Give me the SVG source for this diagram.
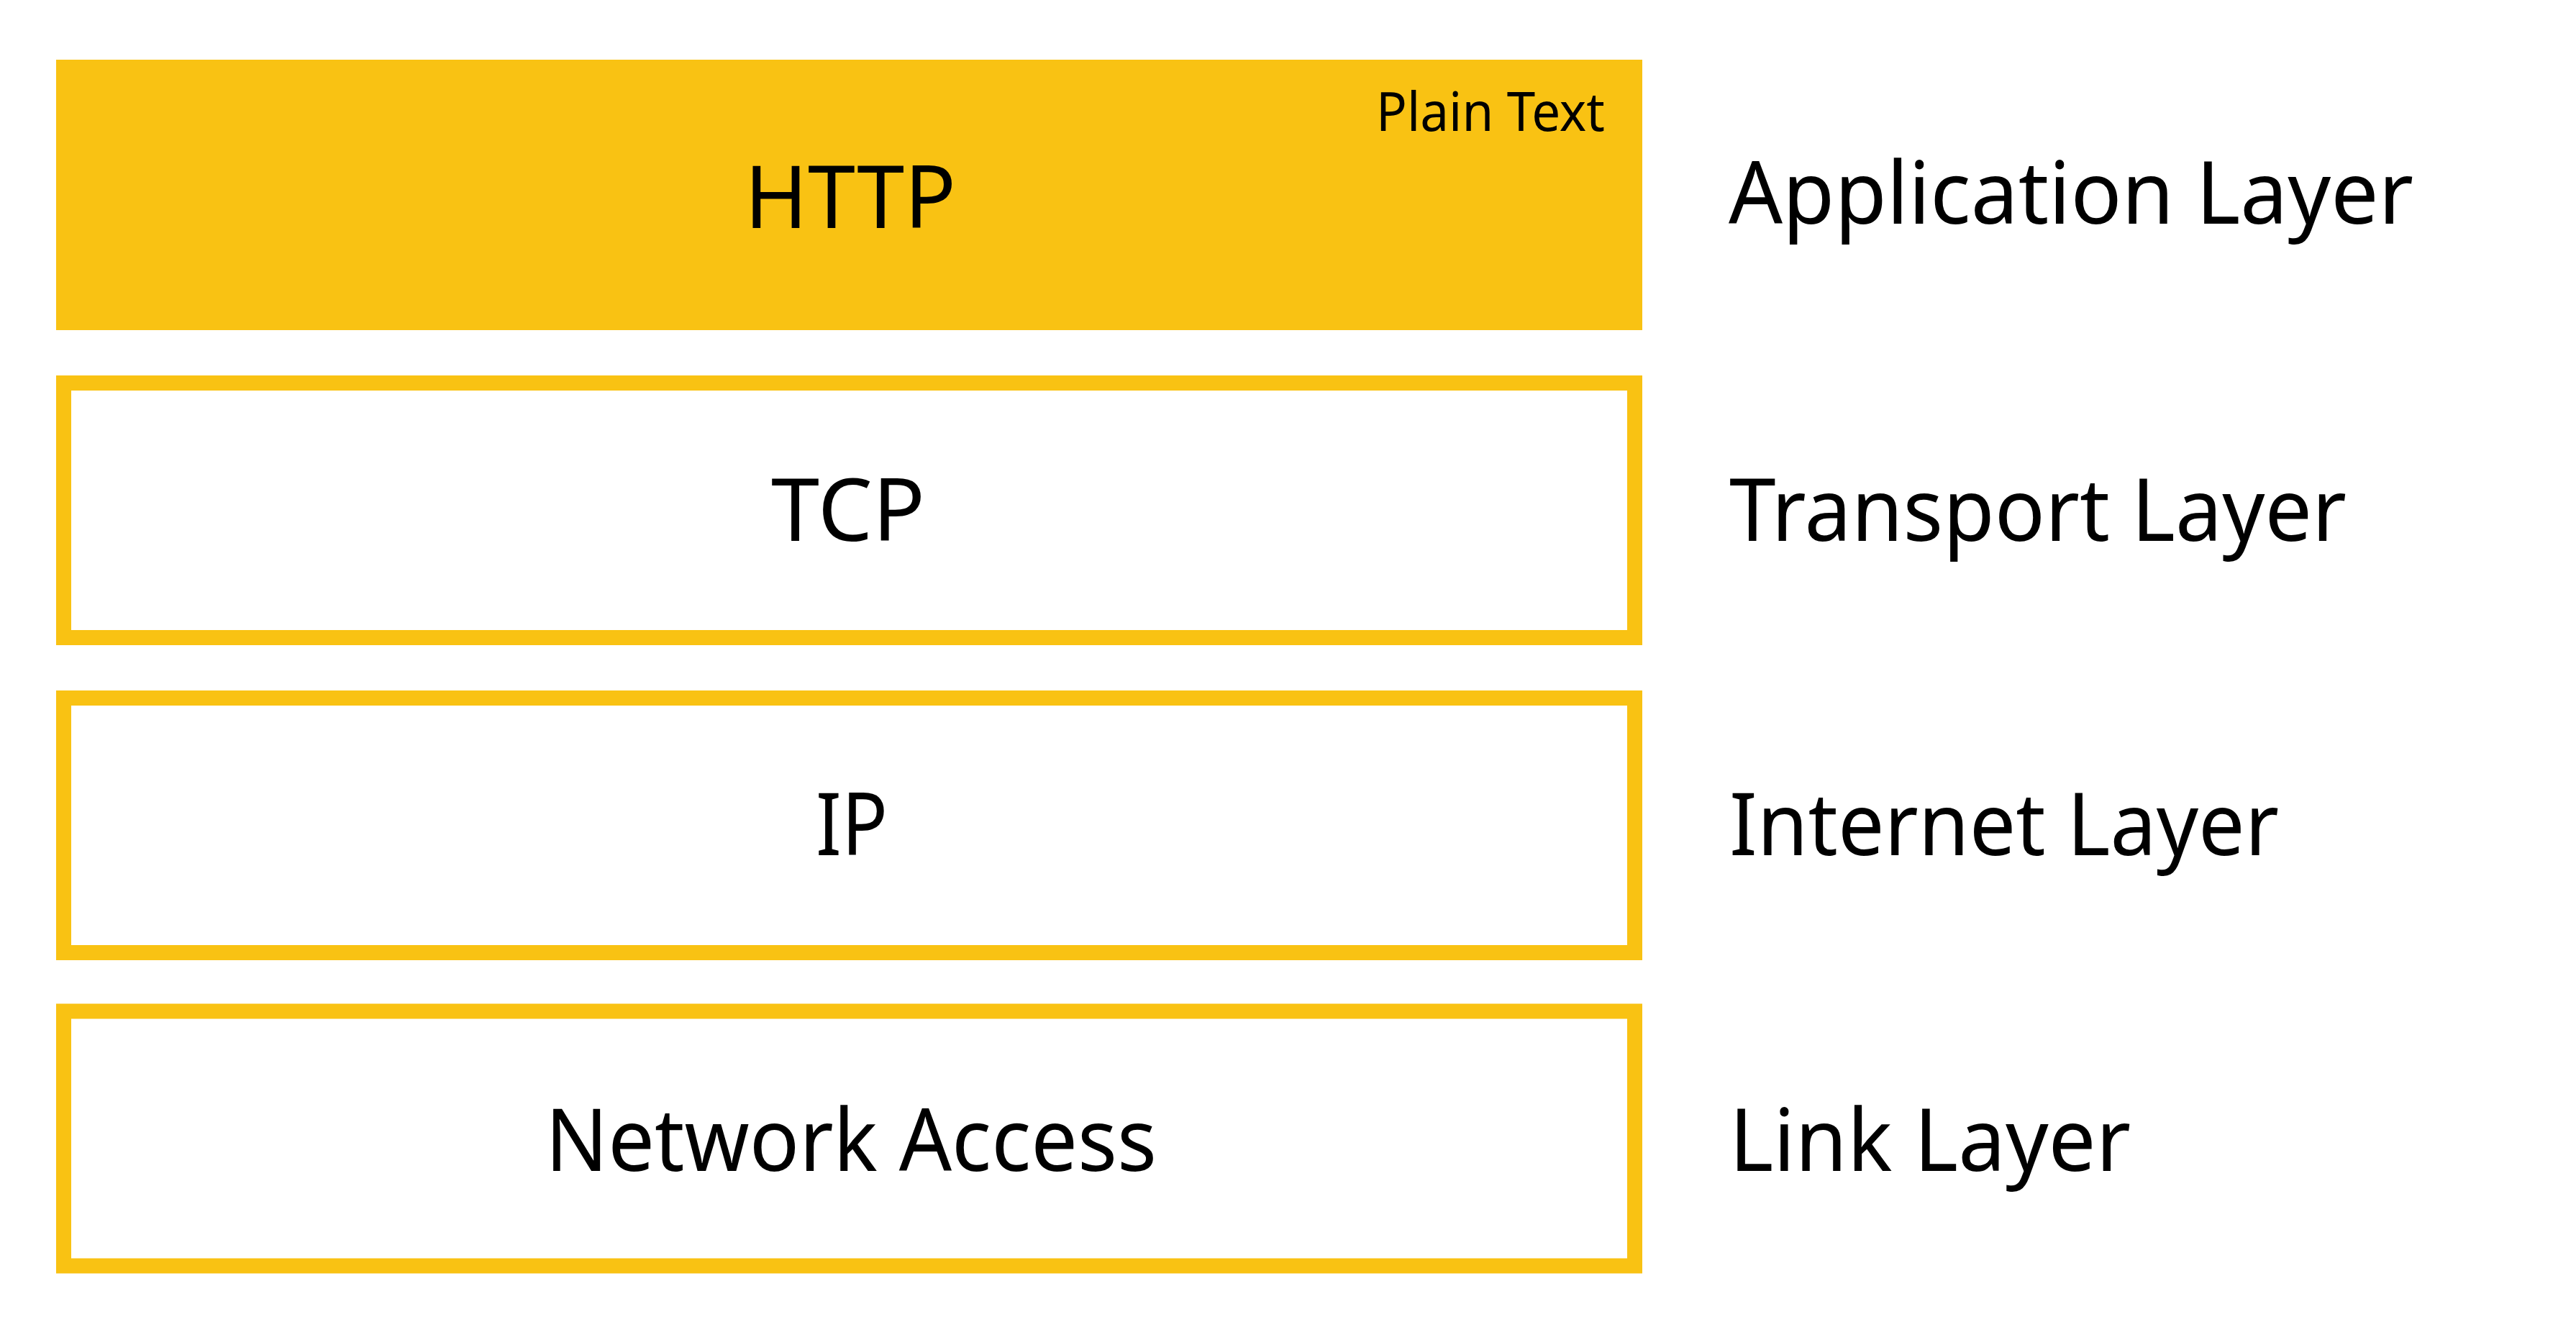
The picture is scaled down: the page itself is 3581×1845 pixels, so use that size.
<svg xmlns="http://www.w3.org/2000/svg" width="3581" height="1845" viewBox="0 0 3581 1845">
<style>
.bg{fill:#ffffff}
.filled{fill:#F9C213;stroke:none}
.outline{fill:#ffffff;stroke:#F9C213;stroke-width:21}
.t{font-family:"Source Sans Pro","Noto Sans","Open Sans",sans-serif;font-size:121px;fill:#000000}
.c{text-anchor:middle}
.s{font-family:"Source Sans Pro","Noto Sans","Open Sans",sans-serif;font-size:74px;fill:#000000}
</style>
<rect class="bg" x="0" y="0" width="3581" height="1845"/>
<g id="http">
<rect class="filled" x="78" y="83" width="2205" height="376"/>
<text class="t c" x="1182" y="317" textLength="294" lengthAdjust="spacingAndGlyphs">HTTP</text>
<text class="s" x="1913" y="182" textLength="318" lengthAdjust="spacingAndGlyphs">Plain Text</text>
</g>
<g id="tcp">
<rect class="outline" x="88.5" y="532.5" width="2184" height="354"/>
<text class="t c" x="1179" y="752" textLength="214" lengthAdjust="spacingAndGlyphs">TCP</text>
</g>
<g id="ip">
<rect class="outline" x="88.5" y="970.5" width="2184" height="354"/>
<text class="t c" x="1184" y="1189" textLength="100" lengthAdjust="spacingAndGlyphs">IP</text>
</g>
<g id="network-access">
<rect class="outline" x="88.5" y="1406" width="2184" height="354"/>
<text class="t c" x="1183" y="1628" textLength="850" lengthAdjust="spacingAndGlyphs">Network Access</text>
</g>
<g id="application-layer">
<text class="t" x="2403" y="311" textLength="952" lengthAdjust="spacingAndGlyphs">Application Layer</text>
</g>
<g id="transport-layer">
<text class="t" x="2404" y="752" textLength="858" lengthAdjust="spacingAndGlyphs">Transport Layer</text>
</g>
<g id="internet-layer">
<text class="t" x="2404" y="1189" textLength="764" lengthAdjust="spacingAndGlyphs">Internet Layer</text>
</g>
<g id="link-layer">
<text class="t" x="2404" y="1628" textLength="558" lengthAdjust="spacingAndGlyphs">Link Layer</text>
</g>
<g id="connectors"></g>
</svg>
